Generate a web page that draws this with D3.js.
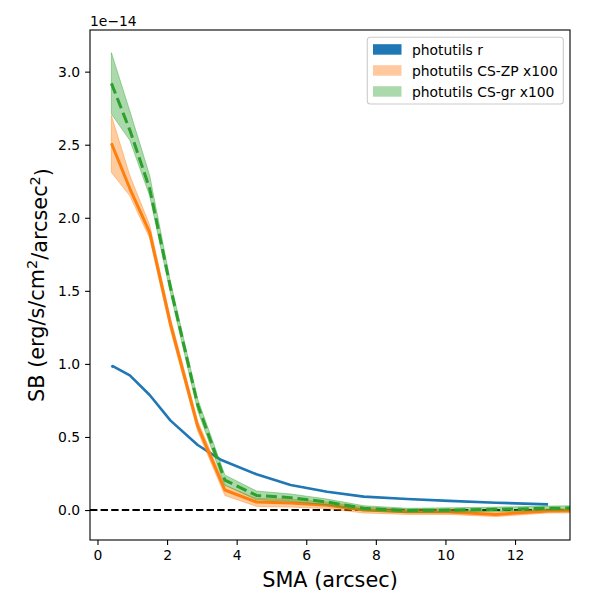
<!DOCTYPE html>
<html>
<head>
<meta charset="utf-8">
<script src="https://cdn.jsdelivr.net/npm/d3@7"></script>
<style>
  body { margin: 0; background: #fff; }
  svg { font-family: "DejaVu Sans", sans-serif; }
</style>
</head>
<body>
<svg id="chart" width="600" height="600"></svg>
<script>
// ---- data (SB in units of 1e-14) ----
const smaR = [0.40, 0.44, 0.93, 1.50, 2.10, 2.88, 3.56, 4.57, 5.55, 6.60, 7.65, 8.90, 10.10, 11.45, 12.95];
const sbR  = [0.978, 0.985, 0.922, 0.787, 0.612, 0.445, 0.342, 0.245, 0.172, 0.125, 0.092, 0.076, 0.063, 0.050, 0.039];

const sma = [0.40, 0.93, 1.50, 2.10, 2.88, 3.66, 4.57, 5.55, 6.60, 7.65, 8.90, 10.10, 11.45, 12.95, 14.40];
const zpMean = [2.51, 2.20, 1.90, 1.27, 0.575, 0.137, 0.055, 0.048, 0.033, 0.000, -0.012, -0.013, -0.030, -0.006, -0.005];
const zpLo   = [2.31, 2.15, 1.86, 1.23, 0.54, 0.10, 0.025, 0.020, 0.010, -0.020, -0.030, -0.030, -0.045, -0.020, -0.020];
const zpHi   = [2.70, 2.29, 1.95, 1.31, 0.61, 0.17, 0.080, 0.075, 0.055, 0.020, 0.005, 0.005, -0.015, 0.008, 0.010];
const grMean = [2.92, 2.60, 2.20, 1.52, 0.72, 0.205, 0.100, 0.085, 0.055, 0.012, -0.003, 0.000, 0.005, 0.012, 0.016];
const grLo   = [2.71, 2.53, 2.15, 1.48, 0.68, 0.170, 0.070, 0.060, 0.035, -0.005, -0.018, -0.015, -0.010, -0.003, 0.000];
const grHi   = [3.13, 2.73, 2.29, 1.56, 0.76, 0.240, 0.130, 0.110, 0.075, 0.030, 0.012, 0.015, 0.020, 0.027, 0.032];

const xTicks = [0, 2, 4, 6, 8, 10, 12];
const yTicks = [0.0, 0.5, 1.0, 1.5, 2.0, 2.5, 3.0];
const legendLabels = ["photutils r", "photutils CS-ZP x100", "photutils CS-gr x100"];
const legendColors = ["#1f77b4", "#ffc89e", "#abd9ab"];

// ---- layout ----
const L = 90, R = 570, T = 30, B = 540;
const svg = d3.select("#chart");
const x = d3.scaleLinear().domain([-0.215, 13.58]).range([L, R]);
const y = d3.scaleLinear().domain([-0.205, 3.285]).range([B, T]);

svg.append("defs").append("clipPath").attr("id", "clip")
  .append("rect").attr("x", L).attr("y", T).attr("width", R - L).attr("height", B - T);

const plot = svg.append("g").attr("clip-path", "url(#clip)");

const line = d3.line().x(d => x(d[0])).y(d => y(d[1]));
const area = d3.area().x(d => x(d[0])).y0(d => y(d[1])).y1(d => y(d[2]));

// blue profile
plot.append("path").datum(smaR.map((s, i) => [s, sbR[i]]))
  .attr("d", line).attr("fill", "none").attr("stroke", "#1f77b4")
  .attr("stroke-width", 2.6).attr("stroke-linejoin", "round").attr("stroke-linecap", "butt");

// zero line
plot.append("line").attr("x1", L).attr("x2", R).attr("y1", y(0)).attr("y2", y(0))
  .attr("stroke", "#000").attr("stroke-width", 2).attr("stroke-dasharray", "7.4,3.2");

// orange band + line
plot.append("path").datum(sma.map((s, i) => [s, zpLo[i], zpHi[i]]))
  .attr("d", area).attr("fill", "#ff7f0e").attr("fill-opacity", 0.4).attr("stroke", "#ff7f0e").attr("stroke-opacity", 0.4).attr("stroke-width", 1);
plot.append("path").datum(sma.map((s, i) => [s, zpMean[i]]))
  .attr("d", line).attr("fill", "none").attr("stroke", "#ff7f0e")
  .attr("stroke-width", 3).attr("stroke-linejoin", "round");

// green band + dashed line
plot.append("path").datum(sma.map((s, i) => [s, grLo[i], grHi[i]]))
  .attr("d", area).attr("fill", "#2ca02c").attr("fill-opacity", 0.4).attr("stroke", "#2ca02c").attr("stroke-opacity", 0.4).attr("stroke-width", 1);
plot.append("path").datum(sma.map((s, i) => [s, grMean[i]]))
  .attr("d", line).attr("fill", "none").attr("stroke", "#2ca02c")
  .attr("stroke-width", 3).attr("stroke-dasharray", "11,4.8").attr("stroke-linejoin", "round");

// ---- axes ----
const xAxis = svg.append("g").attr("transform", `translate(0,${B})`)
  .call(d3.axisBottom(x).tickValues(xTicks).tickFormat(d3.format("d")).tickSizeOuter(0).tickSize(4.9).tickPadding(4.9));
const yAxis = svg.append("g").attr("transform", `translate(${L},0)`)
  .call(d3.axisLeft(y).tickValues(yTicks).tickFormat(d3.format(".1f")).tickSizeOuter(0).tickSize(4.9).tickPadding(4.9));
[xAxis, yAxis].forEach(g => {
  g.select(".domain").remove();
  g.selectAll(".tick line").attr("stroke", "#000").attr("stroke-width", 1.1);
  g.selectAll(".tick text").attr("fill", "#000").style("font-size", "13.9px").style("font-family", "DejaVu Sans");
});

// frame
svg.append("rect").attr("x", L).attr("y", T).attr("width", R - L).attr("height", B - T)
  .attr("fill", "none").attr("stroke", "#000").attr("stroke-width", 1.1);

// offset text
svg.append("text").attr("x", L).attr("y", 25.5).style("font-size", "13.9px").text("1e\u221214");

// axis labels
svg.append("text").attr("x", (L + R) / 2).attr("y", 587).attr("text-anchor", "middle")
  .style("font-size", "20.8px").text("SMA (arcsec)");

const yl = svg.append("text").attr("transform", `translate(44,${(T + B) / 2}) rotate(-90)`)
  .attr("text-anchor", "middle").style("font-size", "20.8px");
yl.append("tspan").text("SB (erg/s/cm");
yl.append("tspan").attr("dy", "-0.45em").style("font-size", "14.5px").text("2");
yl.append("tspan").attr("dy", "0.45em").text("/arcsec");
yl.append("tspan").attr("dy", "-0.45em").style("font-size", "14.5px").text("2");
yl.append("tspan").attr("dy", "0.45em").text(")");

// ---- legend ----
const lg = svg.append("g");
lg.append("rect").attr("x", 367.3).attr("y", 37.3).attr("width", 196).attr("height", 66.7)
  .attr("rx", 3).attr("fill", "#fff").attr("fill-opacity", 0.8).attr("stroke", "#cccccc").attr("stroke-width", 1.1);
legendLabels.forEach((lab, i) => {
  const cy = 49.5 + i * 21;
  lg.append("rect").attr("x", 373).attr("y", cy - 5.3).attr("width", 28.5).attr("height", 10.5)
    .attr("fill", legendColors[i]);
  lg.append("text").attr("x", 412).attr("y", cy + 5).style("font-size", "13.9px").text(lab);
});
</script>
</body>
</html>
